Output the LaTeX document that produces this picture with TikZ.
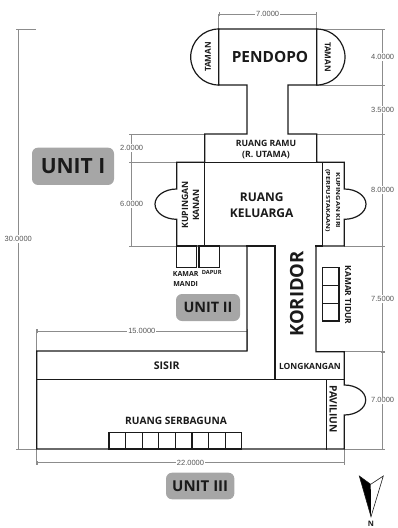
\documentclass[tikz,border=0pt]{standalone}
\usepackage{fontspec}
\setmainfont{Open Sans}
\newfontfamily\dimfont{Liberation Sans}
\definecolor{dimc}{HTML}{8C8C8C}
\definecolor{dimt}{HTML}{555555}
\definecolor{badge}{HTML}{A6A6A6}
\definecolor{inkc}{HTML}{1A1A1A}
\newcommand{\fsz}[1]{\fontsize{#1}{#1}\selectfont}
\usetikzlibrary{arrows.meta}
\tikzset{
  wall/.style={draw=inkc,line width=1.2pt,line join=miter,line cap=rect},
  dimline/.style={draw=dimc,line width=0.5pt},
  dimtick/.style={dimline,{Bar[width=4pt,length=0.5pt]}-{Bar[width=4pt,length=0.5pt]}},
  dimlabel/.style={font=\dimfont\fsz{7.5},text=dimt,fill=white,inner sep=1pt},
  room/.style={font=\bfseries\fsz{7.5},text=inkc,align=center,inner sep=0pt},
  unitbadge/.style={rounded corners=6pt,fill=badge,draw=none,font=\bfseries,text=inkc,inner sep=0pt,anchor=center}
}
\begin{document}
\begin{tikzpicture}[x=1pt,y=-1pt]
\useasboundingbox (0,0) rectangle (398,528);
% dimension extension lines
\draw[dimline] (218.7,14)--(218.7,29) (316.7,14)--(316.7,29);
\draw[dimline] (316.7,29)--(385,29) (316.7,85)--(385,85) (316.7,134)--(385,134)
  (344.3,246)--(385,246) (344.3,351.7)--(385,351.7) (344.3,449)--(385,449);
\draw[dimline] (129,134)--(204.7,134) (129,162.3)--(176.7,162.3) (129,246)--(176.7,246);
\draw[dimline] (16,29.3)--(36,29.3) (16,449)--(36.7,449);
\draw[dimline] (36.7,329)--(36.7,351) (36.7,449)--(36.7,465) (344.3,449)--(344.3,465);
\draw[dimline] (247,329)--(247,351);
% dimension lines
\draw[dimtick] (218.7,14)--node[dimlabel]{7.0000}(316.7,14);
\draw[dimtick] (382.7,29)--node[dimlabel]{4.0000}(382.7,85);
\draw[dimtick] (382.7,85)--node[dimlabel]{3.5000}(382.7,134);
\draw[dimtick] (382.7,134)--node[dimlabel,pos=.5]{8.0000}(382.7,246);
\draw[dimtick] (382.7,246)--node[dimlabel]{7.5000}(382.7,351.7);
\draw[dimtick] (382.7,351.7)--node[dimlabel]{7.0000}(382.7,449);
\draw[dimtick] (131.7,134)--node[dimlabel]{2.0000}(131.7,162.3);
\draw[dimtick] (131.7,162.3)--node[dimlabel]{6.0000}(131.7,246);
\draw[dimtick] (18.3,29.3)--node[dimlabel]{30.0000}(18.3,449);
\draw[dimtick] (36.7,331.3)--node[dimlabel]{15.0000}(247,331.3);
\draw[dimtick] (36.7,462.7)--node[dimlabel]{22.0000}(344.3,462.7);
% outer outline
\draw[wall] (218.7,29)--(316.7,29)--(316.7,85)--(288,85)--(288,134)--(316.7,134)--(316.7,162.3)
  --(344.3,162.3)--(344.3,189) arc[start angle=-90,end angle=90,x radius=21.7,y radius=15.15]
  --(344.3,246)--(316,246)--(316,351.7)--(344.3,351.7)--(344.3,385)
  arc[start angle=-90,end angle=90,x radius=21.4,y radius=15]
  --(344.3,449)--(36.7,449)--(36.7,351)--(247,351)--(247,246)--(176.7,246)--(176.7,219.3)
  arc[start angle=90,end angle=270,x radius=21.7,y radius=15.15]
  --(176.7,162.3)--(204.7,162.3)--(204.7,134)--(247,134)--(247,85)--(218.7,85)--cycle;
\draw[wall] (218.7,29) arc[start angle=270,end angle=90,x radius=28,y radius=28];
\draw[wall] (316.7,29) arc[start angle=-90,end angle=90,x radius=28.3,y radius=28];
% inner walls
\draw[wall] (204.7,162.3)--(322.7,162.3)--(322.7,246)--(316,246);
\draw[wall] (204.7,162.3)--(204.7,246);
\draw[wall] (247,246)--(275,246)--(275,379.6);
\draw[wall] (36.7,379.6)--(344.3,379.6);
\draw[wall] (326.3,379.6)--(326.3,449);
% small rooms
\draw[wall] (176.7,246) rectangle (196.7,267.7);
\draw[wall] (199,246) rectangle (219.3,267.7);
\draw[wall] (322.7,267.7) rectangle (339,321);
\draw[wall] (322.7,285.3)--(339,285.3) (322.7,303.3)--(339,303.3);
\foreach \k in {0,...,7}{
  \draw[wall] ({109+\k*16.59},432.3) rectangle ({109+(\k+1)*16.59},449);
}
% room labels
\node[room,font=\bfseries\fsz{15.4}] (pendopo) at (270,57) {PENDOPO};
\node[room,rotate=90,font=\bfseries\fsz{8.2}] (tamanl) at (208,57) {TAMAN};
\node[room,rotate=-90,font=\bfseries\fsz{8.2}] (tamanr) at (327.7,57) {TAMAN};
\node[room,font=\bfseries\fsz{8.7}] (ramu1) at (266,143) {RUANG RAMU};
\node[room,font=\bfseries\fsz{8.7}] (ramu2) at (266,155) {(R. UTAMA)};
\node[room,rotate=90,font=\bfseries\fsz{8.7}] (kanan1) at (185,205) {KUPINGAN};
\node[room,rotate=90,font=\bfseries\fsz{8.7}] (kanan2) at (196,205) {KANAN};
\node[room,font=\bfseries\fsz{12}] (kel1) at (261.7,197) {RUANG};
\node[room,font=\bfseries\fsz{12}] (kel2) at (261.7,213) {KELUARGA};
\node[room,rotate=-90,font=\bfseries\fsz{5.6}] (kiri1) at (338,200.5) {\scalebox{1.3}[1]{KUPINGAN KIRI}};
\node[room,rotate=-90,font=\bfseries\fsz{5.6}] (kiri2) at (327.7,200.5) {\scalebox{1.3}[1]{(PERPUSTAKAAN)}};
\node[room,rotate=90,font=\bfseries\fsz{18.5}] (koridor) at (296.7,294) {KORIDOR};
\node[room,rotate=-90,font=\bfseries\fsz{8.4}] (tidur) at (348,295) {KAMAR TIDUR};
\node[room,font=\bfseries\fsz{7}] (mandi1) at (185.7,274) {KAMAR};
\node[room,font=\bfseries\fsz{7}] (mandi2) at (185.7,284) {MANDI};
\node[room,font=\bfseries\fsz{5.7}] (dapur) at (211.7,272) {DAPUR};
\node[room,font=\bfseries\fsz{10.6}] (sisir) at (166.7,365.7) {SISIR};
\node[room,font=\bfseries\fsz{10.2}] (serba) at (176,420.7) {RUANG SERBAGUNA};
\node[room,font=\bfseries\fsz{8.5}] (longk) at (310,366) {LONGKANGAN};
\node[room,rotate=-90,font=\bfseries\fsz{10.2}] (pav) at (333.3,409) {PAVILIUN};
% unit badges
\node[unitbadge,minimum width=82pt,minimum height=37.3pt,font=\bfseries\fsz{21}] (u1) at (73,166.3) {UNIT I};
\node[unitbadge,minimum width=64pt,minimum height=27pt,font=\bfseries\fsz{14.4}] (u2) at (208,307.5) {UNIT II};
\node[unitbadge,minimum width=68.3pt,minimum height=26.6pt,font=\bfseries\fsz{15}] (u3) at (200.2,486) {UNIT III};
% north arrow
\fill[black] (359.3,476)--(370.7,484.3)--(371,516.7)--cycle;
\draw[inkc,line width=0.6pt,line join=miter] (359.3,476)--(370.7,484.3)--(383.3,476)--(371,516.7)--cycle;
\node[room,font=\bfseries\fsz{7.5}] (north) at (371,523.5) {N};
\end{tikzpicture}
\end{document}
